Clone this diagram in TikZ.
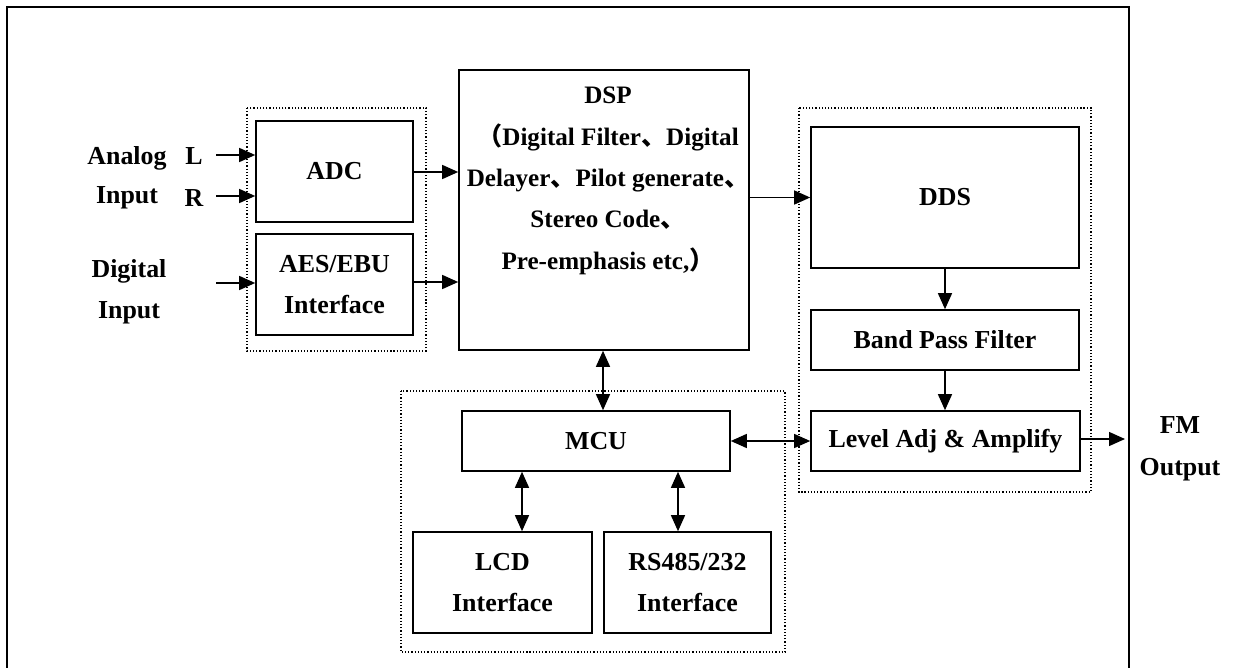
\documentclass[tikz,border=0pt]{standalone}
\usepackage{fontspec}
\setmainfont{Liberation Serif}
\newfontfamily\cjk{Noto Sans CJK SC}
\usetikzlibrary{arrows.meta}
\newcommand\dun{{\cjk 、}}
\newcommand\lpar{{\cjk （}}
\newcommand\rpar{{\cjk ）}}
\begin{document}
\begin{tikzpicture}[x=1bp,y=-1bp,
  every node/.style={font=\fontsize{26}{41.5}\selectfont\bfseries},
  blk/.style={draw, line width=1.6bp, inner sep=0pt, align=center},
  grp/.style={draw, dotted, line width=1.2bp},
  lbl/.style={inner sep=0pt, anchor=base},
  arr/.style={line width=1.4bp, -{Triangle[length=16bp,width=14bp]}},
  darr/.style={line width=1.4bp, {Triangle[length=16bp,width=14bp]}-{Triangle[length=16bp,width=14bp]}}]
\useasboundingbox (0,0) rectangle (1235,668);
% outer frame (open at the bottom)
\draw[line width=2bp] (7,668) -- (7,7) -- (1129,7) -- (1129,668);
% groups
\draw[grp] (247,108) rectangle (426,351);
\draw[grp] (799,108) rectangle (1091,492);
\draw[grp] (401,391) rectangle (785,652);
% blocks
\node[blk, minimum width=157bp, minimum height=101bp] (adc) at (334.5,171.5) {ADC};
\node[blk, minimum width=157bp, minimum height=101bp] (aes) at (334.5,284.5) {AES/EBU\\Interface};
\node[blk, minimum width=290bp, minimum height=280bp] (dsp) at (604,210) {};
\node[inner sep=0pt, align=center, font=\fontsize{25.2}{41.5}\selectfont\bfseries] (dsptext) at (608,181) {DSP\\\lpar Digital Filter\dun Digital\\Delayer\dun Pilot generate\dun\\Stereo Code\dun\\Pre-emphasis etc,\rpar};
\node[blk, minimum width=268bp, minimum height=141bp] (dds) at (945,197.5) {DDS};
\node[blk, minimum width=268bp, minimum height=60bp] (bpf) at (945,340) {Band Pass Filter};
\node[blk, minimum width=269bp, minimum height=60bp] (lvl) at (945.5,441) {Level Adj \& Amplify};
\node[blk, minimum width=268bp, minimum height=60bp] (mcu) at (596,441) {MCU};
\node[blk, minimum width=179bp, minimum height=101bp] (lcd) at (502.5,582.5) {LCD\\Interface};
\node[blk, minimum width=167bp, minimum height=101bp] (rs) at (687.5,582.5) {RS485/232\\Interface};
% labels
\node[lbl] (analog) at (127,165) {Analog};
\node[lbl] (ainput) at (127,204) {Input};
\node[lbl] (l) at (194,165) {L};
\node[lbl] (r) at (194,207) {R};
\node[lbl] (digital) at (129,277) {Digital};
\node[lbl] (dinput) at (129,318) {Input};
\node[lbl] (fm) at (1180,433) {FM};
\node[lbl] (output) at (1180,475) {Output};
% free ends
\coordinate (lin) at (216,155);
\coordinate (rin) at (216,196);
\coordinate (din) at (216,283);
\coordinate (fmout) at (1125,439);
\coordinate (xa) at (603,0);
\coordinate (xb) at (522,0);
\coordinate (xc) at (678,0);
\coordinate (ya) at (0,172);
\coordinate (yb) at (0,282);
% connectors
\draw[arr] (lin) -- (lin -| adc.west);
\draw[arr] (rin) -- (rin -| adc.west);
\draw[arr] (din) -- (din -| aes.west);
\draw[arr] (adc.east |- ya) -- (dsp.west |- ya);
\draw[arr] (aes.east |- yb) -- (dsp.west |- yb);
\draw[arr] (dsp.east |- dds.west) -- (dds.west);
\draw[arr] (dds.south) -- (bpf.north);
\draw[arr] (bpf.south) -- (bpf.south |- lvl.north);
\draw[arr] (lvl.east |- fmout) -- (fmout);
\draw[darr] (dsp.south -| xa) -- (mcu.north -| xa);
\draw[darr] (mcu.east) -- (lvl.west);
\draw[darr] (mcu.south -| xb) -- (lcd.north -| xb);
\draw[darr] (mcu.south -| xc) -- (rs.north -| xc);
\end{tikzpicture}
\end{document}
